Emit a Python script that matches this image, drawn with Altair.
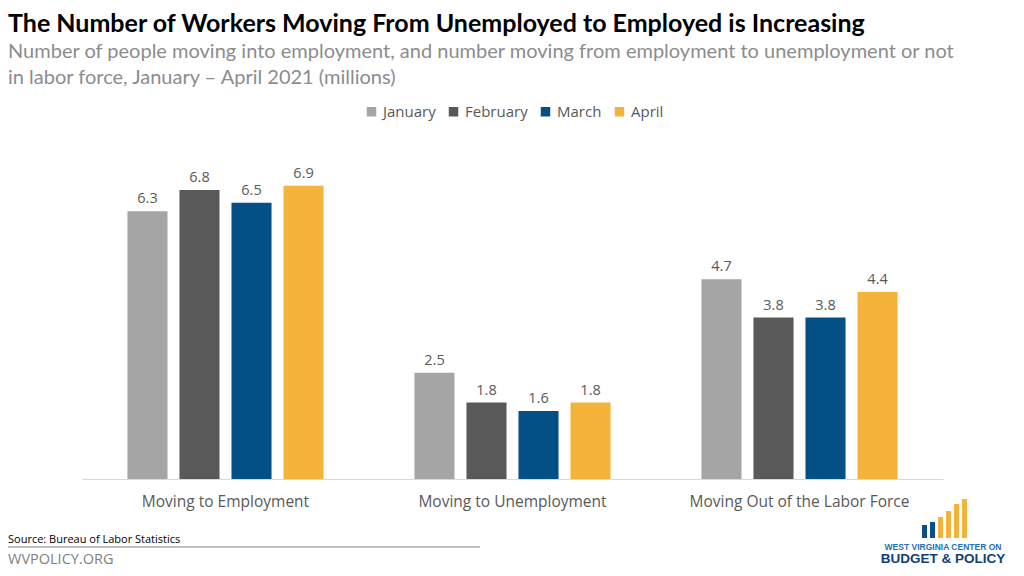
import altair as alt
import pandas as pd

categories = ["Moving to Employment", "Moving to Unemployment", "Moving Out of the Labor Force"]
months = ["January", "February", "March", "April"]
jan = [6.3, 2.5, 4.7]
feb = [6.8, 1.8, 3.8]
mar = [6.5, 1.6, 3.8]
apr = [6.9, 1.8, 4.4]
colors = ["#a5a5a5", "#595959", "#034f86", "#f4b33a"]

title = "The Number of Workers Moving From Unemployed to Employed is Increasing"
subtitle1 = "Number of people moving into employment, and number moving from employment to unemployment or not"
subtitle2 = "in labor force, January \u2013 April 2021 (millions)"
source = "Source: Bureau of Labor Statistics"
site = "WVPOLICY.ORG"

rows = []
for m, vals in zip(months, [jan, feb, mar, apr]):
    for c, v in zip(categories, vals):
        rows.append({"category": c, "month": m, "value": v})
df = pd.DataFrame(rows)

W, H = 861, 340
FONT = "Open Sans"
TFONT = "Lato"

x = alt.X("category:N", sort=categories,
          scale=alt.Scale(paddingInner=0.275, paddingOuter=0.1375),
          axis=alt.Axis(title=None, labelAngle=0, labelFont=FONT, labelFontSize=15.5,
                        labelColor="#595959", labelPadding=15, ticks=False, labelLimit=0,
                        domainColor="#d9d9d9", domainWidth=1))
xo = alt.XOffset("month:N", sort=months, scale=alt.Scale(paddingInner=0.23, paddingOuter=0.115))
y = alt.Y("value:Q", scale=alt.Scale(domain=[0, 8]), axis=None)

base = alt.Chart(df)
bars = base.mark_bar().encode(
    x=x, xOffset=xo, y=y,
    color=alt.Color("month:N", sort=months, scale=alt.Scale(domain=months, range=colors),
                    legend=alt.Legend(title=None, orient="none", direction="horizontal",
                                      legendX=282, legendY=-35, symbolType="square",
                                      symbolSize=90, symbolStrokeWidth=0,
                                      labelFont=FONT, labelFontSize=15, labelColor="#595959",
                                      columnPadding=10, labelOffset=4)),
)
labels = base.mark_text(dy=-12, font=FONT, fontSize=14.5, color="#595959").encode(
    x=alt.X("category:N", sort=categories), xOffset=alt.XOffset("month:N", sort=months),
    y="value:Q", text=alt.Text("value:Q", format=".1f"))


def txt(s, xv, yv, size, color, weight="normal", font=TFONT, align="left"):
    return alt.Chart(pd.DataFrame({"t": [s]})).mark_text(
        align=align, baseline="alphabetic", fontSize=size, color=color,
        fontWeight=weight, font=font).encode(
        x=alt.value(xv), y=alt.value(yv), text="t:N")

L = -74  # page x=8
T = -131  # page y=8
layers = [
    bars, labels,
    txt(title, L, T + 24, 25, "#000000", "bold"),
    txt(subtitle1, L, T + 50, 20, "#8c8c8c"),
    txt(subtitle2, L, T + 76, 20, "#8c8c8c"),
    txt(source, L, 543 - 139, 11, "#000000", font=FONT),
    txt(site, L, 564 - 139, 14.5, "#7f7f7f", font=FONT),
]

rule = alt.Chart(pd.DataFrame({"a": [0]})).mark_rule(color="#7f7f7f", strokeWidth=1).encode(
    x=alt.value(L), x2=alt.value(480 - 82), y=alt.value(547 - 139))
layers.append(rule)

# logo
logo_cols = ["#0b4f86", "#0b4f86", "#f4b33a", "#f4b33a", "#f4b33a", "#f4b33a"]
logo_x = [922, 930, 938, 946, 954, 962]
logo_top = [525, 522, 517, 511, 504, 499]
for cx, ct, cc in zip(logo_x, logo_top, logo_cols):
    layers.append(alt.Chart(pd.DataFrame({"a": [0]})).mark_rect(color=cc).encode(
        x=alt.value(cx - 82), x2=alt.value(cx - 82 + 5),
        y=alt.value(ct - 139), y2=alt.value(538 - 139)))
layers.append(txt("WEST VIRGINIA CENTER ON", 943 - 82, 550 - 139, 8.5, "#1f6fb5", "bold",
                  font="Liberation Sans", align="center"))
layers.append(txt("BUDGET & POLICY", 943 - 82, 563 - 139, 13.5, "#123e73", "bold",
                  font="Liberation Sans", align="center"))

chart = alt.layer(*layers).properties(
    width=W, height=H,
    background="white",
    autosize=alt.AutoSizeParams(type="none"),
    padding={"left": 74, "top": 131, "right": 73, "bottom": 89},
).configure_view(strokeWidth=0, stroke="transparent")

chart.save("out.html", embed_options={"renderer": "svg", "actions": False})
